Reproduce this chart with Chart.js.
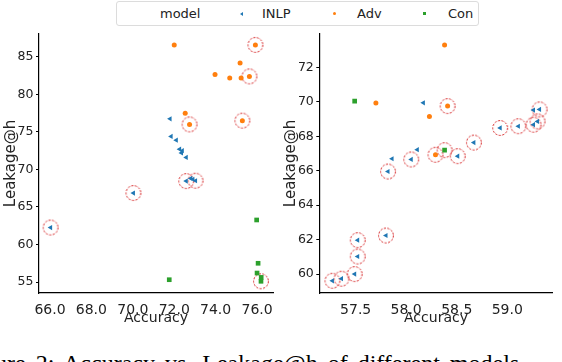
<!DOCTYPE html>
<html>
<head>
<meta charset="utf-8">
<script src="https://cdn.jsdelivr.net/npm/chart.js@4.4.1/dist/chart.umd.min.js"></script>
<style>
  body { margin: 0; width: 562px; height: 362px; overflow: hidden; background: #fff; position: relative; font-family: "DejaVu Sans", sans-serif; color: #222; }
  #legend { position: absolute; left: 116px; top: 1px; width: 361px; height: 23px; border: 1px solid #dcdcdc; border-radius: 3px; }
  #legend span { position: absolute; top: 4px; font-size: 13px; line-height: 15px; white-space: nowrap; }
  #legend i { position: absolute; display: block; }
  .tri { width: 0; height: 0; border-top: 2px solid transparent; border-bottom: 2px solid transparent; border-right: 3px solid #1f77b4; }
  #c1 { position: absolute; left: 0; top: 24px; }
  #c2 { position: absolute; left: 280px; top: 24px; }
  #caption { position: absolute; left: -37px; top: 350px; font-family: "Liberation Serif", serif; font-size: 24px; white-space: nowrap; color: #000; word-spacing: 4px; }
</style>
</head>
<body>
<div id="legend">
  <span style="left:43px">model</span>
  <i class="tri" style="left:123px;top:10px"></i>
  <span style="left:145px">INLP</span>
  <i style="left:216px;top:10px;width:3px;height:3px;border-radius:50%;background:#ff7f0e"></i>
  <span style="left:240px">Adv</span>
  <i style="left:306px;top:10px;width:3px;height:3px;background:#2ca02c"></i>
  <span style="left:331px">Con</span>
</div>
<canvas id="c1" width="282" height="307"></canvas>
<canvas id="c2" width="282" height="307"></canvas>
<div id="caption">Figure 2: Accuracy vs. Leakage@h of different models</div>
<script>
// left panel
const leftInlpAcc  = [71.8, 71.85, 72.1, 72.26, 72.39, 72.35, 72.58, 72.58, 72.8, 72.9, 73.03, 70.03, 66.03];
const leftInlpLeak = [76.75, 74.4, 73.9, 72.7, 72.5, 72.2, 71.6, 68.45, 68.8, 68.7, 68.5, 66.86, 62.26];
const leftAdvAcc   = [72.0, 75.92, 75.18, 73.97, 74.68, 75.23, 75.63, 72.53, 72.74, 75.29];
const leftAdvLeak  = [86.6, 86.6, 84.2, 82.65, 82.2, 82.2, 82.4, 77.48, 76.0, 76.5];
const leftConAcc   = [71.76, 75.98, 76.05, 76.0, 76.2, 76.19];
const leftConLeak  = [55.31, 63.27, 57.5, 56.2, 55.62, 55.1];
const leftFrontAcc  = [75.92, 75.63, 72.74, 75.29, 72.58, 73.03, 70.03, 66.03, 76.19];
const leftFrontLeak = [86.6, 82.4, 76.0, 76.5, 68.45, 68.5, 66.86, 62.26, 55.1];
const leftXTicks = [66, 68, 70, 72, 74, 76];
const leftYTicks = [55, 60, 65, 70, 75, 80, 85];

// right panel
const rightInlpAcc  = [58.17, 57.86, 58.11, 57.82, 58.05, 58.51, 58.67, 58.93, 59.11, 59.26, 59.30, 59.26, 59.32, 57.80, 57.52, 57.52, 57.49, 57.36, 57.27];
const rightInlpLeak = [69.95, 66.7, 67.23, 65.96, 66.66, 66.85, 67.64, 68.49, 68.59, 68.68, 68.87, 69.53, 69.57, 62.24, 61.97, 61.02, 60.0, 59.73, 59.61];
const rightAdvAcc   = [58.38, 57.70, 58.23, 58.41, 58.29];
const rightAdvLeak  = [73.31, 69.94, 69.16, 69.76, 66.93];
const rightConAcc   = [57.49, 58.38];
const rightConLeak  = [70.05, 67.2];
const rightFrontAcc  = [57.82, 58.05, 58.51, 58.67, 58.93, 59.11, 59.26, 59.30, 59.32, 57.80, 57.52, 57.52, 57.49, 57.36, 57.27, 58.41, 58.29, 58.38];
const rightFrontLeak = [65.96, 66.66, 66.85, 67.64, 68.49, 68.59, 68.68, 68.87, 69.57, 62.24, 61.97, 61.02, 60.0, 59.73, 59.61, 69.76, 66.93, 67.2];
const rightXTicks = [57.5, 58.0, 58.5, 59.0];
const rightYTicks = [60, 62, 64, 66, 68, 70, 72];

const pts = (xs, ys) => xs.map((x, i) => ({ x, y: ys[i] }));

// dashed red ring used for the highlighted points
const ring = document.createElement("canvas");
ring.width = 18; ring.height = 18;
(() => {
  const g = ring.getContext("2d");
  g.strokeStyle = "#d62728";
  g.lineWidth = 1;
  g.setLineDash([2.2, 1.4]);
  g.beginPath();
  g.arc(9, 9, 7.4, 0, Math.PI * 2);
  g.stroke();
})();

function makeChart(id, d, xr, yr, xTicks, yTicks, xFmt, yAxisW, padRight) {
  return new Chart(document.getElementById(id), {
    type: "scatter",
    data: {
      datasets: [
        { label: "INLP", data: pts(d.inlpX, d.inlpY), pointStyle: "triangle", rotation: -90, radius: 3,
          backgroundColor: "#1f77b4", borderWidth: 0 },
        { label: "Adv", data: pts(d.advX, d.advY), pointStyle: "circle", radius: 2.5,
          backgroundColor: "#ff7f0e", borderWidth: 0 },
        { label: "Con", data: pts(d.conX, d.conY), pointStyle: "rect", radius: 3.3,
          backgroundColor: "#2ca02c", borderWidth: 0 },
        { label: "front", data: pts(d.frontX, d.frontY), pointStyle: ring, radius: 8 }
      ]
    },
    options: {
      responsive: false,
      animation: false,
      events: [],
      layout: { padding: { top: 5, right: padRight, left: 0, bottom: 0 } },
      plugins: { legend: { display: false }, tooltip: { enabled: false } },
      scales: {
        x: {
          type: "linear", min: xr[0], max: xr[1],
          afterBuildTicks: s => { s.ticks = xTicks.map(v => ({ value: v })); },
          afterFit: s => { s.height = 38; },
          grid: { display: false },
          border: { display: true, color: "#000", width: 1.2 },
          ticks: { padding: 1, color: "#222", font: { family: "DejaVu Sans", size: 14 }, callback: v => xFmt(v), maxRotation: 0, autoSkip: false },
          title: { display: true, text: "Accuracy", color: "#222", font: { family: "DejaVu Sans", size: 14 }, padding: { top: 2, bottom: 4 } }
        },
        y: {
          type: "linear", min: yr[0], max: yr[1],
          afterBuildTicks: s => { s.ticks = yTicks.map(v => ({ value: v })); },
          afterFit: s => { s.width = yAxisW; },
          grid: { display: true, drawOnChartArea: false, drawTicks: true, tickLength: 3, color: "#000", lineWidth: 1 },
          border: { display: true, color: "#000", width: 1.2 },
          ticks: { padding: 2.5, color: "#222", font: { family: "DejaVu Sans", size: 12.5 }, autoSkip: false },
          title: { display: true, text: "Leakage@h", color: "#222", font: { family: "DejaVu Sans", size: 15 }, padding: { top: 2, bottom: 2 } }
        }
      }
    }
  });
}

makeChart("c1",
  { inlpX: leftInlpAcc, inlpY: leftInlpLeak, advX: leftAdvAcc, advY: leftAdvLeak,
    conX: leftConAcc, conY: leftConLeak, frontX: leftFrontAcc, frontY: leftFrontLeak },
  [65.47, 76.77], [53.54, 88.05], leftXTicks, leftYTicks, v => v.toFixed(1), 39, 9);

makeChart("c2",
  { inlpX: rightInlpAcc, inlpY: rightInlpLeak, advX: rightAdvAcc, advY: rightAdvLeak,
    conX: rightConAcc, conY: rightConLeak, frontX: rightFrontAcc, frontY: rightFrontLeak },
  [57.14, 59.45], [58.9, 73.95], rightXTicks, rightYTicks, v => v.toFixed(1), 39.3, 9.3);
</script>
</body>
</html>
